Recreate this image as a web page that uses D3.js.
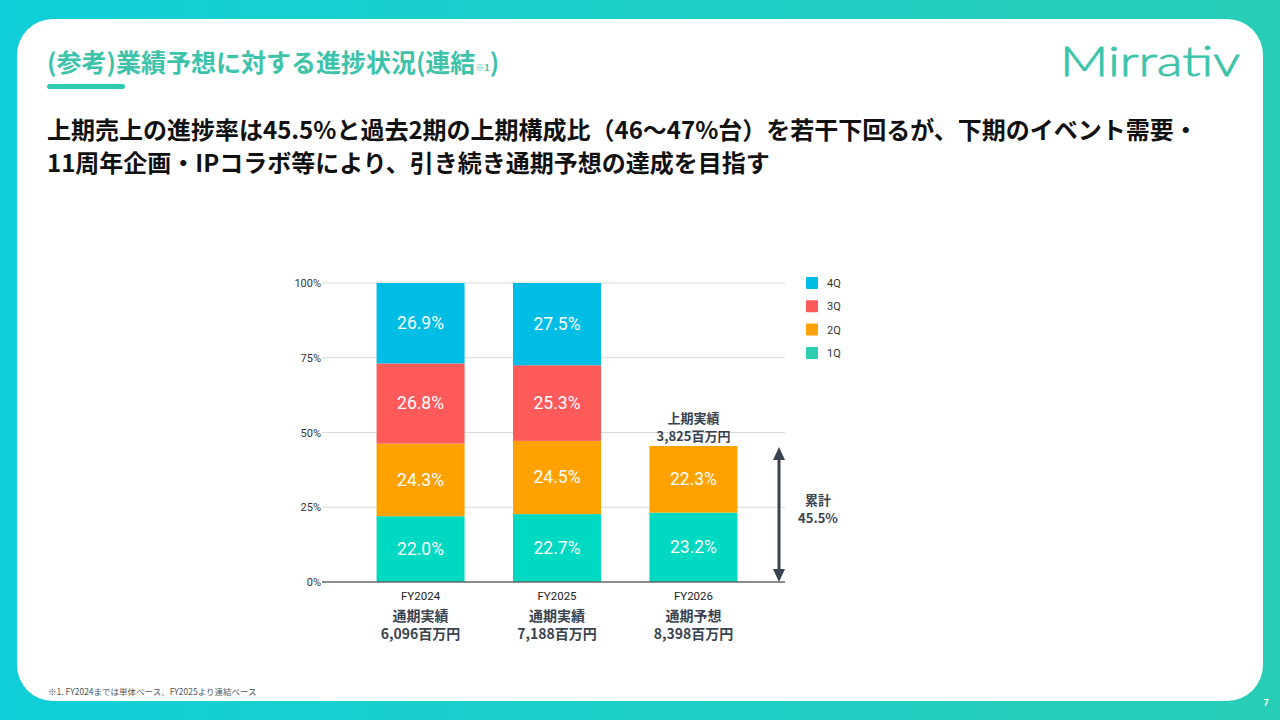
<!DOCTYPE html>
<html><head><meta charset="utf-8">
<script src="https://cdn.jsdelivr.net/npm/d3@7"></script>
<style>html,body{margin:0;padding:0;background:#fff;}svg{display:block;}</style>
</head><body>
<svg id="c" width="1280" height="720"></svg>
<script>
const categories = ["FY2024", "FY2025", "FY2026"];
const quarters = ["1Q", "2Q", "3Q", "4Q"];
const q1 = [22.0, 22.7, 23.2];
const q2 = [24.3, 24.5, 22.3];
const q3 = [26.8, 25.3, null];
const q4 = [26.9, 27.5, null];
const yTicks = [0, 25, 50, 75, 100];
const subLabel1 = ["通期実績", "通期実績", "通期予想"];
const subLabel2 = ["6,096百万円", "7,188百万円", "8,398百万円"];
const h1Label = ["上期実績", "3,825百万円"];
const cumLabel = ["累計", "45.5%"];
const cumValue = 45.5;
const barColors = {"1Q": "#00d9c1", "2Q": "#ffa200", "3Q": "#ff5a5a", "4Q": "#00bde5"};
const legendColors = {"1Q": "#2fcdb2", "2Q": "#ffa200", "3Q": "#ff5a5a", "4Q": "#00bde5"};
const titleText = "(参考)業績予想に対する進捗状況(連結";
const headline = ["上期売上の進捗率は45.5%と過去2期の上期構成比（46〜47%台）を若干下回るが、下期のイベント需要・",
                  "11周年企画・IPコラボ等により、引き続き通期予想の達成を目指す"];
const footnote = "※1. FY2024までは単体ベース、FY2025より連結ベース";

const svg = d3.select("#c");
const JP = "'Noto Sans CJK JP','Noto Sans',sans-serif";
const LAT = "Roboto,'Noto Sans',sans-serif";

// background gradient
const defs = svg.append("defs");
const g = defs.append("linearGradient").attr("id","bg").attr("x1","0").attr("x2","1").attr("y1","0").attr("y2","0");
g.append("stop").attr("offset","0").attr("stop-color","#10cfd8");
g.append("stop").attr("offset","1").attr("stop-color","#28cdb6");
svg.append("rect").attr("width",1280).attr("height",720).attr("fill","url(#bg)");
svg.append("rect").attr("x",17).attr("y",19).attr("width",1246).attr("height",682).attr("rx",36).attr("fill","#fff");

// title
const t = svg.append("text").attr("x",47).attr("y",72).attr("font-family",JP).attr("font-weight",700)
  .attr("font-size",25).attr("fill","#3dc3aa");
t.append("tspan").text(titleText);
t.append("tspan").attr("font-size",9).attr("dy",-1).text("※1");
t.append("tspan").attr("dy",1).text(")");
svg.append("rect").attr("x",47).attr("y",84).attr("width",78).attr("height",5).attr("rx",2.5).attr("fill","#2ecbb0");

// logo
svg.append("text").attr("x",1060).attr("y",76).attr("font-family","Lato,'Open Sans',sans-serif").attr("font-weight",300)
  .attr("font-size",42).attr("fill","#3cc4aa").attr("stroke","#3cc4aa").attr("stroke-width",0.8)
  .attr("textLength",180).attr("lengthAdjust","spacingAndGlyphs").text("Mirrativ");

// headline
headline.forEach((s,i)=>{
  svg.append("text").attr("x",47).attr("y",139+i*33).attr("font-family",JP).attr("font-weight",700)
    .attr("font-size",24).attr("fill","#111").text(s);
});

// scales
const x = d3.scaleBand().domain(categories).range([352,762]).paddingInner(0.355).paddingOuter(0.18);
const y = d3.scaleLinear().domain([0,100]).range([582,283]);

// grid
const chart = svg.append("g");
chart.selectAll("line.grid").data(yTicks.filter(d=>d>0)).join("line")
  .attr("x1",322).attr("x2",785).attr("y1",d=>y(d)).attr("y2",d=>y(d))
  .attr("stroke","#d9d9d9").attr("stroke-width",1);
chart.selectAll("text.tick").data(yTicks).join("text")
  .attr("x",321).attr("y",d=>y(d)+4).attr("text-anchor","end")
  .attr("font-family",LAT).attr("font-size",11).attr("fill","#333").text(d=>d+"%");

// stack
const rows = categories.map((c,i)=>({cat:c,"1Q":q1[i]||0,"2Q":q2[i]||0,"3Q":q3[i]||0,"4Q":q4[i]||0}));
const series = d3.stack().keys(quarters)(rows);
series.forEach(s=>{
  const key = s.key;
  const gg = chart.append("g");
  s.forEach(d=>{
    const v = d[1]-d[0];
    if(!v) return;
    gg.append("rect").attr("x",x(d.data.cat)).attr("width",x.bandwidth())
      .attr("y",y(d[1])).attr("height",y(d[0])-y(d[1])).attr("fill",barColors[key]);
    gg.append("text").attr("x",x(d.data.cat)+x.bandwidth()/2).attr("y",(y(d[0])+y(d[1]))/2+6)
      .attr("text-anchor","middle").attr("font-family",LAT).attr("font-size",17.5).attr("fill","#fff")
      .text(v.toFixed(1)+"%");
  });
});
// axis line
chart.append("line").attr("x1",322).attr("x2",785).attr("y1",y(0)).attr("y2",y(0)).attr("stroke","#666").attr("stroke-width",1.5);

// category labels
categories.forEach((c,i)=>{
  const cx = x(c)+x.bandwidth()/2;
  chart.append("text").attr("x",cx).attr("y",600).attr("text-anchor","middle").attr("font-family",LAT)
    .attr("font-size",11.5).attr("fill","#222").text(c);
  chart.append("text").attr("x",cx).attr("y",621).attr("text-anchor","middle").attr("font-family",JP)
    .attr("font-weight",700).attr("font-size",14).attr("fill","#3a4450").text(subLabel1[i]);
  chart.append("text").attr("x",cx).attr("y",639).attr("text-anchor","middle").attr("font-family",JP)
    .attr("font-weight",700).attr("font-size",14).attr("fill","#3a4450").text(subLabel2[i]);
});

// H1 label above FY2026
const c3 = x(categories[2])+x.bandwidth()/2;
h1Label.forEach((s,i)=>{
  chart.append("text").attr("x",c3).attr("y",y(cumValue)-23+i*18).attr("text-anchor","middle").attr("font-family",JP)
    .attr("font-weight",700).attr("font-size",13).attr("fill","#3a4450").text(s);
});

// arrow
const ax = 779;
chart.append("line").attr("x1",ax).attr("x2",ax).attr("y1",y(cumValue)+8).attr("y2",y(0)-8).attr("stroke","#3a4450").attr("stroke-width",3);
chart.append("path").attr("d",`M${ax},${y(cumValue)+1} L${ax-6},${y(cumValue)+14} L${ax+6},${y(cumValue)+14} Z`).attr("fill","#3a4450");
chart.append("path").attr("d",`M${ax},${y(0)} L${ax-6},${y(0)-13} L${ax+6},${y(0)-13} Z`).attr("fill","#3a4450");
cumLabel.forEach((s,i)=>{
  chart.append("text").attr("x",818).attr("y",505+i*18).attr("text-anchor","middle").attr("font-family",JP)
    .attr("font-weight",700).attr("font-size",13).attr("fill","#3a4450").text(s);
});

// legend
const legendOrder = ["4Q","3Q","2Q","1Q"];
legendOrder.forEach((k,i)=>{
  const ly = 283 + i*23.3;
  chart.append("rect").attr("x",806).attr("y",ly-6).attr("width",12).attr("height",12).attr("rx",1).attr("fill",legendColors[k]);
  chart.append("text").attr("x",827).attr("y",ly+4).attr("font-family",LAT).attr("font-size",11).attr("fill","#333").text(k);
});

// footnote & page number
svg.append("text").attr("x",48).attr("y",695).attr("font-family",JP).attr("font-size",8.5).attr("fill","#555").text(footnote);
svg.append("text").attr("x",1266).attr("y",706).attr("text-anchor","middle").attr("font-family",LAT).attr("font-weight",700)
  .attr("font-size",9).attr("fill","#fff").text("7");
</script>
</body></html>
